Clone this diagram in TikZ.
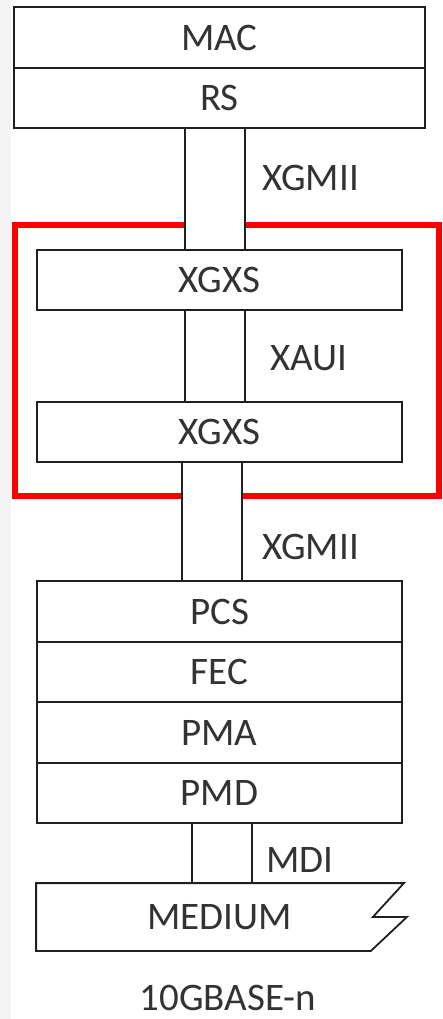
\documentclass[tikz,border=0pt]{standalone}
\usepackage{fontspec}
\setmainfont{Carlito}
\usetikzlibrary{calc,backgrounds}
\definecolor{txt}{HTML}{333333}
\definecolor{strip}{HTML}{F4F4F4}
\tikzset{
  line/.style={draw=black!88, line width=1.8pt},
  layer/.style={line, fill=white, inner sep=0pt, minimum width=365pt, minimum height=60pt, text=txt, font=\fontsize{39}{47}\selectfont},
  wide/.style={layer, minimum width=411pt},
  lbl/.style={inner sep=0pt, text=txt, font=\fontsize{39}{47}\selectfont, anchor=west},
  frame/.style={draw=red, line width=6pt},
  pipefill/.style={fill=white}
}
\begin{document}
\begin{tikzpicture}[x=1pt, y=-1pt]
\useasboundingbox (0,0) rectangle (442,1019);
% layers
\node[wide, minimum height=61pt] (mac) at (219.5,37.5) {MAC};
\node[wide] (rs) at (219.5,98) {RS};
\node[layer] (xgxsa) at (219.5,280) {XGXS};
\node[layer] (xgxsb) at (219.5,432) {XGXS};
\node[layer, minimum height=61pt] (pcs) at (219.5,611.5) {PCS};
\node[layer] (fec) at (219.5,672) {FEC};
\node[layer, minimum height=61pt] (pma) at (219.5,732.5) {PMA};
\node[layer] (pmd) at (219.5,793) {PMD};
\node[layer, draw=none, fill=none, minimum height=66pt] (medium) at (219.5,917) {MEDIUM};
\draw[line, line join=miter] (medium.north west) -- ($(medium.north east)+(1,0)$) -- ($(medium.east)+(-30,0)$) -- ($(medium.east)+(4,0)$) -- ($(medium.south east)+(-32,0)$) -- (medium.south west) -- cycle;
% pipe positions
\coordinate (pal) at (185,0); \coordinate (par) at (245,0);
\coordinate (pbl) at (185,0); \coordinate (pbr) at (245,0);
\coordinate (pcl) at (182,0); \coordinate (pcr) at (242,0);
\coordinate (pdl) at (192,0); \coordinate (pdr) at (252,0);
\begin{scope}[on background layer]
  \fill[strip] (0,0) rectangle (11,1019);
  \draw[frame] (15,225) rectangle (439,496);
  \fill[pipefill] (rs.south -| pal) rectangle (xgxsa.north -| par);
  \fill[pipefill] (xgxsa.south -| pbl) rectangle (xgxsb.north -| pbr);
  \fill[pipefill] (xgxsb.south -| pcl) rectangle (pcs.north -| pcr);
  \fill[pipefill] (pmd.south -| pdl) rectangle (medium.north -| pdr);
\end{scope}
\draw[line] (rs.south -| pal) -- (xgxsa.north -| pal);
\draw[line] (rs.south -| par) -- (xgxsa.north -| par);
\draw[line] (xgxsa.south -| pbl) -- (xgxsb.north -| pbl);
\draw[line] (xgxsa.south -| pbr) -- (xgxsb.north -| pbr);
\draw[line] (xgxsb.south -| pcl) -- (pcs.north -| pcl);
\draw[line] (xgxsb.south -| pcr) -- (pcs.north -| pcr);
\draw[line] (pmd.south -| pdl) -- (medium.north -| pdl);
\draw[line] (pmd.south -| pdr) -- (medium.north -| pdr);
% labels
\node[lbl] (l1) at (262,178) {XGMII};
\node[lbl] (l2) at (270,358) {XAUI};
\node[lbl] (l3) at (262,547) {XGMII};
\node[lbl] (l4) at (266,860) {MDI};
\node[lbl, anchor=center] (cap) at (228,998) {10GBASE-n};
\end{tikzpicture}
\end{document}
